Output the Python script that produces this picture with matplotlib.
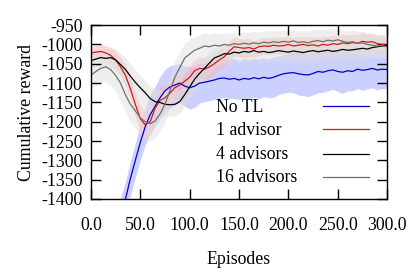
import numpy as np
import matplotlib.pyplot as plt

plt.rcParams['font.family'] = ['Liberation Serif', 'DejaVu Serif']
plt.rcParams['font.size'] = 12.8
plt.rcParams['axes.unicode_minus'] = False

# episodes sampled every 5
episodes = np.arange(0, 301, 5)
episodes_notl = np.arange(30, 301, 5)

no_tl = [-1440, -1400, -1347, -1300, -1254, -1213, -1182, -1160, -1138, -1120,
         -1110, -1105, -1100, -1108, -1112, -1108, -1100, -1098, -1095, -1092,
         -1088, -1087, -1090, -1088, -1092, -1088, -1090, -1086, -1089, -1085,
         -1088, -1085, -1080, -1076, -1074, -1073, -1076, -1078, -1079, -1075,
         -1070, -1072, -1068, -1066, -1070, -1072, -1068, -1070, -1064, -1067,
         -1065, -1062, -1066, -1064, -1065]
no_tl_sd = [45, 45, 45, 45, 45, 48, 50, 52, 55, 55,
            55, 52, 50, 52, 55, 55, 52, 50, 50, 50,
            52, 50, 50, 52, 50, 52, 50, 50, 52, 50,
            50, 52, 50, 50, 50, 52, 55, 55, 56, 55,
            55, 52, 52, 50, 52, 55, 52, 50, 50, 52,
            50, 50, 52, 50, 50]

adv1 = [-1022, -1020, -1018, -1022, -1028, -1040, -1058, -1080, -1115, -1155,
        -1192, -1208, -1200, -1165, -1145, -1138, -1126, -1112, -1105, -1095,
        -1085, -1068, -1062, -1064, -1058, -1050, -1040, -1032, -1018, -1006,
        -1008, -1010, -1008, -1012, -1006, -1004, -1005, -1002, -1004, -1003,
        -1000, -1004, -1002, -1000, -1003, -1001, -1004, -1000, -1002, -998,
        -1000, -996, -998, -995, -997, -992, -994, -993, -998, -1000, -1002]
adv1_sd = [18, 18, 18, 18, 20, 22, 25, 28, 30, 32,
           35, 35, 35, 35, 35, 32, 32, 30, 30, 30,
           30, 30, 30, 30, 28, 28, 26, 25, 25, 25,
           24, 24, 24, 22, 22, 22, 22, 22, 22, 22,
           22, 22, 22, 22, 22, 22, 22, 22, 22, 22,
           22, 22, 22, 22, 22, 22, 22, 22, 22, 22, 22]

adv4 = [-1042, -1038, -1034, -1036, -1034, -1040, -1052, -1065, -1082, -1098,
        -1112, -1125, -1140, -1148, -1150, -1155, -1156, -1155, -1148, -1130,
        -1110, -1090, -1075, -1062, -1048, -1035, -1030, -1024, -1025, -1020,
        -1022, -1018, -1020, -1016, -1020, -1018, -1021, -1019, -1016, -1018,
        -1020, -1017, -1019, -1021, -1018, -1016, -1019, -1017, -1015, -1018,
        -1016, -1013, -1015, -1014, -1012, -1010, -1012, -1008, -1006, -1004, -1002]
adv4_sd = [20, 20, 20, 22, 25, 28, 30, 32, 32, 32,
           32, 32, 32, 32, 30, 30, 30, 30, 30, 30,
           30, 30, 30, 28, 28, 26, 25, 25, 25, 25,
           25, 25, 25, 25, 25, 25, 25, 25, 25, 25,
           25, 25, 25, 25, 25, 25, 25, 25, 25, 25,
           25, 25, 25, 25, 25, 25, 25, 25, 25, 25, 25]

adv16 = [-1080, -1070, -1062, -1058, -1065, -1080, -1100, -1130, -1155, -1172,
         -1190, -1200, -1205, -1198, -1180, -1155, -1120, -1085, -1060, -1035,
         -1025, -1015, -1010, -1004, -1006, -1002, -1004, -1000, -1002, -998,
         -1000, -997, -999, -996, -998, -994, -996, -993, -995, -992,
         -994, -991, -995, -993, -996, -992, -990, -993, -989, -991,
         -988, -992, -995, -993, -997, -996, -1000, -1002, -1004, -1003, -1006]
adv16_sd = [35, 35, 35, 38, 40, 42, 45, 45, 45, 45,
            45, 45, 45, 45, 45, 45, 45, 42, 40, 40,
            38, 36, 35, 35, 32, 32, 30, 30, 30, 30,
            30, 30, 30, 30, 30, 30, 30, 30, 30, 30,
            30, 30, 30, 30, 30, 30, 30, 30, 30, 30,
            30, 30, 30, 30, 30, 30, 30, 30, 30, 30, 30]

series = [
    ('No TL', episodes_notl, no_tl, no_tl_sd, '#0000c8', '#c4c8ff', 0.85),
    ('1 advisor', episodes, adv1, adv1_sd, '#d01c1c', '#ffb4b4', 0.55),
    ('4 advisors', episodes, adv4, adv4_sd, '#000000', '#dcdcdc', 0.5),
    ('16 advisors', episodes, adv16, adv16_sd, '#707070', '#e0e0e0', 0.5),
]

fig = plt.figure(figsize=(4.15, 2.76), dpi=100)
ax = fig.add_axes([0.219, 0.279, 0.714, 0.630])

for name, x, y, sd, c, fc, a in series:
    y = np.array(y, dtype=float)
    sd = np.array(sd, dtype=float)
    ax.fill_between(x, y - sd, y + sd, color=fc, alpha=a, lw=0)

for name, x, y, sd, c, fc, a in series:
    ax.plot(x, y, color=c, lw=0.9)

ax.set_xlim(0, 300)
ax.set_ylim(-1400, -950)
ax.set_xticks(np.arange(0, 301, 50))
ax.set_xticklabels(['%.1f' % v for v in np.arange(0, 301, 50)])
ax.set_yticks(np.arange(-1400, -949, 50))
ax.tick_params(direction='in', length=7, width=1, top=True, right=True,
               labeltop=False, labelright=False)
ax.tick_params(axis='x', pad=13)
ax.tick_params(axis='y', pad=6)
for s in ax.spines.values():
    s.set_linewidth(1)

ax.set_xlabel('Episodes', labelpad=12)
ax.set_ylabel('Cumulative reward', labelpad=4)

# key, drawn gnuplot style: label left, sample line on the right
key_y = [0.528, 0.395, 0.254, 0.121]
for (name, x, y, sd, c, fc, a), ky in zip(series, key_y):
    ax.text(0.422, ky, name, transform=ax.transAxes, ha='left', va='center')
    ax.plot([0.784, 0.939], [ky + 0.005, ky + 0.005], transform=ax.transAxes,
            color=c, lw=0.9)

fig.savefig('out.png', dpi=100)
